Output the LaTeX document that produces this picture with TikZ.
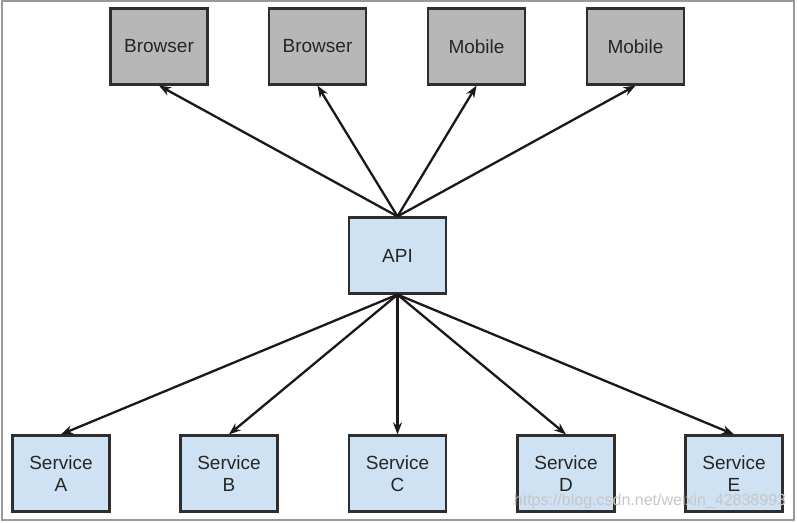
\documentclass[tikz,border=0pt]{standalone}
\usepackage{fontspec}
\setmainfont{Liberation Sans}
\usetikzlibrary{positioning,arrows.meta}
\definecolor{clientgray}{HTML}{B7B7B7}
\definecolor{servblue}{HTML}{CFE2F3}
\definecolor{edgegray}{HTML}{2E2E2E}
\tikzset{main node/.style={rectangle,draw=edgegray,line width=2.2pt,minimum width=97pt,minimum height=76pt,inner sep=0pt,align=center,font=\fontsize{19}{22}\selectfont,text=black!85} }
\tikzset{client node/.style={main node,fill=clientgray} }
\tikzset{service node/.style={main node,fill=servblue} }

\begin{document}
\begin{tikzpicture}[x=1pt,y=1pt]
\useasboundingbox (0,0) rectangle (797,-522);
\draw[gray!80,line width=1.4pt] (2,-1) rectangle (794,-520);
\begin{scope}[on grid]

  \node[service node] (api) at (397.5,-255.5) {API};

  \node[client node] (b1) at (159,-46.5) {Browser};
  \node[client node] (b2) [right = 158.5pt of b1] {Browser};
  \node[client node] (m1) [right = 159pt of b2] {Mobile};
  \node[client node] (m2) [right = 159pt of m1] {Mobile};

  \node[service node] (sC) [below = 218pt of api] {Service\\C};
  \node[service node] (sB) [left = 168.5pt of sC] {Service\\B};
  \node[service node] (sA) [left = 168pt of sB] {Service\\A};
  \node[service node] (sD) [right = 168.5pt of sC] {Service\\D};
  \node[service node] (sE) [right = 168pt of sD] {Service\\E};

    \path[every edge/.style={draw,line width=2.3pt,black!90,-{Stealth[length=12pt,width=9pt]}}]
    (api.north) edge (b1.south)
    (api.north) edge (b2.south)
    (api.north) edge (m1.south)
    (api.north) edge (m2.south)

    (api.south) edge (sA.north)
    (api.south) edge (sB.north)
    (api.south) edge (sC.north)
    (api.south) edge (sD.north)
    (api.south) edge (sE.north)
    ;
    \end{scope}
  \node[text=gray!45,font=\fontsize{16}{18}\selectfont] (mark) at (650,-501) {https://blog.csdn.net/weixin\_42838993};
\end{tikzpicture}
\end{document}
